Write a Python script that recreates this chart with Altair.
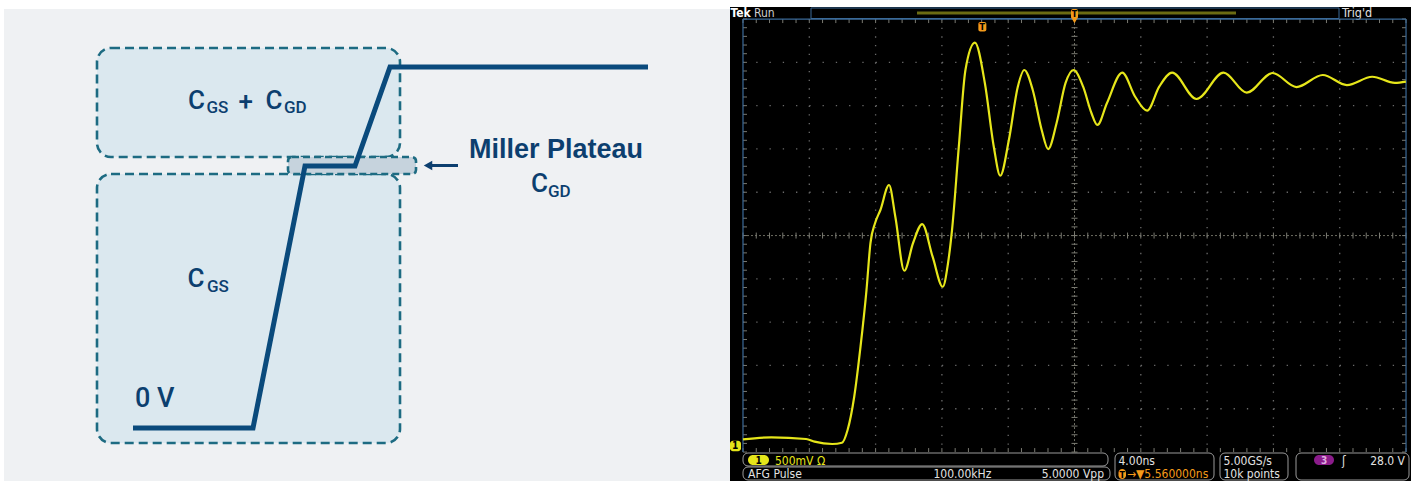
import altair as alt
import numpy as np
import pandas as pd

# ------------------------------------------------------------------
# Left panel: gate-charge sketch, drawn in the panel's own pixel units
# ------------------------------------------------------------------
GATE_X = [133, 253, 305, 355, 390, 648]
GATE_Y = [428, 428, 166, 166, 67, 67]

REGION_NAME = ["cgs_cgd", "cgs"]
REGION_X0 = [97, 97]
REGION_X1 = [400, 400]
REGION_Y0 = [48, 174]
REGION_Y1 = [157, 443]

MILLER_X0, MILLER_X1 = [288], [416]
MILLER_Y0, MILLER_Y1 = [157], [174]

ARROW_X = [458, 429]
ARROW_Y = [165.5, 165.5]

MAIN_TEXT = ["C", "+", "C", "C", "0 V", "C"]
MAIN_X = [188, 238.5, 265.5, 187.5, 135, 531]
MAIN_Y = [108.5, 110, 108.5, 287, 407, 192]
MAIN_SIZE = [26, 26, 26, 26, 27, 26]

SUB_TEXT = ["GS", "GD", "GS", "GD"]
SUB_X = [206.5, 284, 207, 548]
SUB_Y = [113.3, 113.3, 292, 197]

TITLE_TEXT = ["Miller Plateau"]
TITLE_X = [469]
TITLE_Y = [158]

NAVY = "#0c3f6f"
LINE_BLUE = "#0a4a7c"
TEAL = "#1d6b82"
FONT_L = "Liberation Sans, Arial, sans-serif"
FONT_C = "Roboto, Liberation Sans, sans-serif"

XL = alt.Scale(domain=[0, 730], nice=False, zero=False)
YL = alt.Scale(domain=[0, 481], reverse=True, nice=False, zero=False)


def rect_layer(df, xs, ys, **mark):
    return alt.Chart(df).mark_rect(**mark).encode(
        x=alt.X("x0:Q", scale=xs, axis=None),
        x2="x1:Q",
        y=alt.Y("y0:Q", scale=ys, axis=None),
        y2="y1:Q",
    )


def text_layer(df, xs, ys, align="left", baseline="alphabetic", **mark):
    return alt.Chart(df).mark_text(align=align, baseline=baseline, **mark).encode(
        x=alt.X("x:Q", scale=xs, axis=None),
        y=alt.Y("y:Q", scale=ys, axis=None),
        text="text:N",
        size=alt.Size("size:Q", scale=None, legend=None),
        color=alt.Color("color:N", scale=None, legend=None),
    )


left_bg = rect_layer(
    pd.DataFrame({"x0": [4], "x1": [730], "y0": [9], "y1": [481]}), XL, YL,
    color="#eff1f3",
)
regions = rect_layer(
    pd.DataFrame({"name": REGION_NAME, "x0": REGION_X0, "x1": REGION_X1,
                  "y0": REGION_Y0, "y1": REGION_Y1}), XL, YL,
    fill="#dbe8ef", stroke=TEAL, strokeWidth=2.6, strokeDash=[9, 5], cornerRadius=14,
)
miller = rect_layer(
    pd.DataFrame({"x0": MILLER_X0, "x1": MILLER_X1, "y0": MILLER_Y0, "y1": MILLER_Y1}),
    XL, YL, fill="#c6d3dd", stroke=TEAL, strokeWidth=2.6, strokeDash=[7, 4], cornerRadius=4,
)
gate = alt.Chart(pd.DataFrame({"x": GATE_X, "y": GATE_Y, "i": range(len(GATE_X))})).mark_line(
    color=LINE_BLUE, strokeWidth=5, strokeJoin="miter", strokeCap="butt"
).encode(
    x=alt.X("x:Q", scale=XL, axis=None),
    y=alt.Y("y:Q", scale=YL, axis=None),
    order="i:O",
)
arrow_shaft = alt.Chart(pd.DataFrame({"x": ARROW_X, "y": ARROW_Y, "i": [0, 1]})).mark_line(
    color=NAVY, strokeWidth=3
).encode(
    x=alt.X("x:Q", scale=XL, axis=None),
    y=alt.Y("y:Q", scale=YL, axis=None),
    order="i:O",
)
arrow_head = alt.Chart(pd.DataFrame({"x": [ARROW_X[-1] - 1], "y": [ARROW_Y[-1]]})).mark_point(
    shape="triangle-left", filled=True, size=95, color=NAVY, opacity=1
).encode(
    x=alt.X("x:Q", scale=XL, axis=None),
    y=alt.Y("y:Q", scale=YL, axis=None),
)

main_df = pd.DataFrame({"text": MAIN_TEXT, "x": MAIN_X, "y": MAIN_Y,
                        "size": MAIN_SIZE, "color": NAVY})
sub_df = pd.DataFrame({"text": SUB_TEXT, "x": SUB_X, "y": SUB_Y, "size": 17, "color": NAVY})
title_df = pd.DataFrame({"text": TITLE_TEXT, "x": TITLE_X, "y": TITLE_Y, "size": 27, "color": NAVY})

left = alt.layer(
    left_bg, regions, miller, gate, arrow_shaft, arrow_head,
    text_layer(main_df, XL, YL, font=FONT_C, fontWeight=500),
    text_layer(sub_df, XL, YL, font=FONT_C, fontWeight=500),
    text_layer(title_df, XL, YL, font=FONT_L, fontWeight="bold"),
).properties(width=730, height=481)

# ------------------------------------------------------------------
# Right panel: oscilloscope capture (trace in ns / V)
# ------------------------------------------------------------------
NS_PER_DIV = 4.0
V_PER_DIV = 0.5
H_DIVS = 10
V_DIVS = 10
DELAY_NS = 5.56
T_LEFT = DELAY_NS - NS_PER_DIV * H_DIVS / 2
T_RIGHT = DELAY_NS + NS_PER_DIV * H_DIVS / 2
V_BOTTOM = -0.07
V_TOP = V_BOTTOM + V_PER_DIV * V_DIVS

TRACE_T = [-14.44, -12.73, -10.63, -10.12, -9.05, -8.47, -8.13, -7.73, -7.35, -6.99,
           -6.75, -6.47, -6.15, -5.63, -5.25, -4.71, -4.18, -3.63, -3.00, -2.39,
           -2.07, -1.83, -1.42, -1.02, -0.45, 0.15, 0.69, 1.08, 1.60, 2.14,
           2.53, 3.04, 3.58, 3.97, 4.48, 5.02, 5.50, 6.08, 6.58, 6.94,
           7.52, 8.44, 9.22, 9.94, 10.67, 11.45, 12.92, 14.55, 15.95, 17.51,
           18.95, 20.54, 21.99, 23.52, 24.89, 25.55]
TRACE_V = [0.077, 0.100, 0.081, 0.050, 0.023, 0.038, 0.185, 0.569, 1.147, 1.801,
           2.344, 2.575, 2.725, 3.014, 2.648, 2.024, 2.344, 2.563, 2.186, 1.839,
           2.113, 2.494, 3.456, 4.342, 4.657, 4.192, 3.456, 3.121, 3.533, 4.149,
           4.342, 4.111, 3.649, 3.429, 3.730, 4.192, 4.342, 4.149, 3.845, 3.707,
           3.961, 4.311, 4.033, 3.872, 4.149, 4.311, 4.007, 4.311, 4.080, 4.307,
           4.145, 4.284, 4.168, 4.264, 4.192, 4.207]

XT = alt.Scale(domain=[-15.224, 25.86], nice=False, zero=False)
YT = alt.Scale(domain=[-0.404, 5.150], nice=False, zero=False)
XF = alt.Scale(domain=[730, 1411], nice=False, zero=False)
YF = alt.Scale(domain=[0, 481], reverse=True, nice=False, zero=False)

FONT_T = "DejaVu Sans Condensed, DejaVu Sans, sans-serif"
TXT = "#e2e2e2"
YEL = "#e6e61a"
ORANGE = "#f49a1a"
GRID = "#6a6a6a"
EDGE = "#3b6a99"

# --- frame: black screen, status bar, readouts (screen pixels) ---
screen = rect_layer(pd.DataFrame({"x0": [730], "x1": [1411], "y0": [7], "y1": [481]}),
                    XF, YF, color="#000000")
status_box = rect_layer(pd.DataFrame({"x0": [811], "x1": [1339], "y0": [8], "y1": [18.5]}),
                        XF, YF, fill="#000000", stroke=EDGE, strokeWidth=1)
record_bar = alt.Chart(pd.DataFrame({"x0": [917], "x1": [1236], "y": [13]})).mark_rule(
    color="#6b6b12", strokeWidth=3
).encode(x=alt.X("x0:Q", scale=XF, axis=None), x2="x1:Q",
         y=alt.Y("y:Q", scale=YF, axis=None))

READ_X0 = [743, 743, 1115, 1220, 1296]
READ_X1 = [1108, 1110, 1214, 1288, 1409]
READ_Y0 = [453, 467, 453, 453, 453]
READ_Y1 = [466, 480, 480, 480, 480]
readout_boxes = rect_layer(
    pd.DataFrame({"x0": READ_X0, "x1": READ_X1, "y0": READ_Y0, "y1": READ_Y1}), XF, YF,
    fill="#000000", stroke="#9a9a9a", strokeWidth=1, cornerRadius=5,
)
badges = alt.Chart(pd.DataFrame({
    "x0": [748, 1314, 1118.5], "x1": [769, 1334, 1126],
    "y0": [455, 455, 469], "y1": [465, 465, 479],
    "c": [YEL, "#8b1c8b", ORANGE]})).mark_rect(cornerRadius=5).encode(
    x=alt.X("x0:Q", scale=XF, axis=None), x2="x1:Q",
    y=alt.Y("y0:Q", scale=YF, axis=None), y2="y1:Q",
    color=alt.Color("c:N", scale=None, legend=None),
)

left_txt = pd.DataFrame([
    ("Run", 754, 17, 12, "#d0d0d0"),
    ("Trig'd", 1342, 17, 12.5, TXT),
    ("500mV \u03a9", 775, 464.5, 12, YEL),
    ("AFG  Pulse", 748, 478, 12, TXT),
    ("100.00kHz", 933.5, 478, 12, TXT),
    ("4.00ns", 1118.5, 464.5, 12, TXT),
    ("\u2192\u25bc5.560000ns", 1127, 478, 12, ORANGE),
    ("5.00GS/s", 1223.4, 464.5, 12, TXT),
    ("10k points", 1223.4, 478, 12, TXT),
    ("\u0283", 1342, 464.5, 12, TXT),
], columns=["text", "x", "y", "size", "color"])
right_txt = pd.DataFrame([
    ("5.0000 Vpp", 1104, 478, 12, TXT),
    ("28.0 V", 1405, 464.5, 12, TXT),
], columns=["text", "x", "y", "size", "color"])
center_txt = pd.DataFrame([
    ("1", 758.5, 463.5, 10, "#000000"),
    ("3", 1324, 463.5, 10, "#e0b0e0"),
    ("T", 1122.2, 477.5, 9, "#000000"),
], columns=["text", "x", "y", "size", "color"])
bold_txt = pd.DataFrame([("Tek", 730.5, 17, 12, "#ffffff")],
                        columns=["text", "x", "y", "size", "color"])

frame = alt.layer(
    screen, status_box, record_bar, readout_boxes, badges,
    text_layer(left_txt, XF, YF, font=FONT_T),
    text_layer(right_txt, XF, YF, align="right", font=FONT_T),
    text_layer(center_txt, XF, YF, align="center", font=FONT_T, fontWeight="bold"),
    text_layer(bold_txt, XF, YF, font=FONT_T, fontWeight="bold"),
)

# --- graticule ---
t_major = [T_LEFT + NS_PER_DIV * k for k in range(H_DIVS + 1)]
v_major = [V_BOTTOM + V_PER_DIV * k for k in range(V_DIVS + 1)]
t_mid = t_major[H_DIVS // 2]
v_mid = v_major[V_DIVS // 2]
t_minor = [T_LEFT + NS_PER_DIV / 5 * j for j in range(H_DIVS * 5 + 1)]
v_minor = [V_BOTTOM + V_PER_DIV / 5 * j for j in range(V_DIVS * 5 + 1)]

px_t = (XT.domain[1] - XT.domain[0]) / 681.0   # ns per screen pixel
px_v = (YT.domain[1] - YT.domain[0]) / 481.0   # V per screen pixel

hgrid = pd.DataFrame({"v": [v for i, v in enumerate(v_major) if i not in (0, V_DIVS // 2, V_DIVS)],
                      "t0": T_LEFT, "t1": T_RIGHT})
vgrid = pd.DataFrame({"t": [t for i, t in enumerate(t_major) if i not in (0, H_DIVS // 2, H_DIVS)],
                      "v0": V_TOP, "v1": V_BOTTOM})

h_dots = alt.Chart(hgrid).mark_rule(color=GRID, strokeWidth=1.3,
                                     strokeDash=[1.3, 66.3 / 5 - 1.3]).encode(
    x=alt.X("t0:Q", scale=XT, axis=None), x2="t1:Q", y=alt.Y("v:Q", scale=YT, axis=None))
v_dots = alt.Chart(vgrid).mark_rule(color=GRID, strokeWidth=1.3,
                                     strokeDash=[1.3, 43.3 / 5 - 1.3]).encode(
    x=alt.X("t:Q", scale=XT, axis=None), y=alt.Y("v0:Q", scale=YT, axis=None), y2="v1:Q")

cross_h = alt.Chart(pd.DataFrame({"v": [v_mid], "t0": [T_LEFT], "t1": [T_RIGHT]})).mark_rule(
    color="#6d6d62", strokeWidth=1, strokeDash=[2, 2]).encode(
    x=alt.X("t0:Q", scale=XT, axis=None), x2="t1:Q", y=alt.Y("v:Q", scale=YT, axis=None))
cross_v = alt.Chart(pd.DataFrame({"t": [t_mid], "v0": [V_TOP], "v1": [V_BOTTOM]})).mark_rule(
    color="#6d6d62", strokeWidth=1, strokeDash=[2, 2]).encode(
    x=alt.X("t:Q", scale=XT, axis=None), y=alt.Y("v0:Q", scale=YT, axis=None), y2="v1:Q")

# tick marks along the crosshair and the graticule edges
vt_rows = []
for t in t_minor:
    vt_rows.append((t, v_mid - 3 * px_v, v_mid + 3 * px_v))
    vt_rows.append((t, V_TOP, V_TOP - 4 * px_v))
    vt_rows.append((t, V_BOTTOM, V_BOTTOM + 4 * px_v))
ht_rows = []
for v in v_minor:
    ht_rows.append((v, t_mid - 3 * px_t, t_mid + 3 * px_t))
    ht_rows.append((v, T_LEFT, T_LEFT + 4 * px_t))
    ht_rows.append((v, T_RIGHT, T_RIGHT - 4 * px_t))
vticks = alt.Chart(pd.DataFrame(vt_rows, columns=["t", "v0", "v1"])).mark_rule(
    color="#7a7a72", strokeWidth=1).encode(
    x=alt.X("t:Q", scale=XT, axis=None), y=alt.Y("v0:Q", scale=YT, axis=None), y2="v1:Q")
hticks = alt.Chart(pd.DataFrame(ht_rows, columns=["v", "t0", "t1"])).mark_rule(
    color="#7a7a72", strokeWidth=1).encode(
    x=alt.X("t0:Q", scale=XT, axis=None), x2="t1:Q", y=alt.Y("v:Q", scale=YT, axis=None))

edges = alt.Chart(pd.DataFrame({
    "t0": [T_LEFT, T_RIGHT, T_LEFT], "t1": [T_LEFT, T_RIGHT, T_RIGHT],
    "v0": [V_TOP, V_TOP, V_TOP], "v1": [V_BOTTOM, V_BOTTOM, V_TOP]})).mark_rule(
    color=EDGE, strokeWidth=1.2).encode(
    x=alt.X("t0:Q", scale=XT, axis=None), x2="t1:Q",
    y=alt.Y("v0:Q", scale=YT, axis=None), y2="v1:Q")

trace = alt.Chart(pd.DataFrame({"t": TRACE_T, "v": TRACE_V})).mark_line(
    color=YEL, strokeWidth=2.2, interpolate="monotone").encode(
    x=alt.X("t:Q", scale=XT, axis=None), y=alt.Y("v:Q", scale=YT, axis=None))

# trigger point (t = 0) and horizontal position (screen centre) markers
trig_marks = alt.Chart(pd.DataFrame({
    "t0": [-4 * px_t, DELAY_NS - 3.5 * px_t], "t1": [4 * px_t, DELAY_NS + 3.5 * px_t],
    "v0": [(446 - 22) / 86.6, (446 - 9) / 86.6], "v1": [(446 - 31.5) / 86.6, (446 - 19) / 86.6]})
).mark_rect(color=ORANGE, cornerRadius=2).encode(
    x=alt.X("t0:Q", scale=XT, axis=None), x2="t1:Q",
    y=alt.Y("v0:Q", scale=YT, axis=None), y2="v1:Q")
trig_letters = alt.Chart(pd.DataFrame({
    "t": [0.0, DELAY_NS], "v": [(446 - 23.5) / 86.6, (446 - 10.5) / 86.6]})).mark_text(
    text="T", font=FONT_T, fontWeight="bold", fontSize=9, baseline="top", color="#000000").encode(
    x=alt.X("t:Q", scale=XT, axis=None), y=alt.Y("v:Q", scale=YT, axis=None))
pos_arrow = alt.Chart(pd.DataFrame({"t": [DELAY_NS], "v": [(446 - 21) / 86.6]})).mark_point(
    shape="triangle-down", filled=True, size=30, color=ORANGE, opacity=1).encode(
    x=alt.X("t:Q", scale=XT, axis=None), y=alt.Y("v:Q", scale=YT, axis=None))

# channel 1 ground reference (0 V)
gnd_tag = alt.Chart(pd.DataFrame({"v0": [0.06], "v1": [-0.06]})).mark_rect(
    color=YEL, cornerRadius=3).encode(
    x=alt.value(0), x2=alt.value(11),
    y=alt.Y("v0:Q", scale=YT, axis=None), y2="v1:Q")
gnd_text = alt.Chart(pd.DataFrame({"v": [0.0]})).mark_text(
    text="1", font=FONT_T, fontWeight="bold", fontSize=10, baseline="middle",
    color="#000000").encode(x=alt.value(5), y=alt.Y("v:Q", scale=YT, axis=None))

scope = alt.layer(
    h_dots, v_dots, cross_h, cross_v, vticks, hticks, edges, trace,
    trig_marks, trig_letters, pos_arrow, gnd_tag, gnd_text,
)

right = alt.layer(frame, scope).resolve_scale(x="independent", y="independent").properties(
    width=681, height=481)

chart = alt.hconcat(left, right, spacing=0).properties(
    padding=0, background="#ffffff"
).configure_view(strokeWidth=0)

chart.save("out.html", embed_options={"renderer": "svg", "actions": False})
